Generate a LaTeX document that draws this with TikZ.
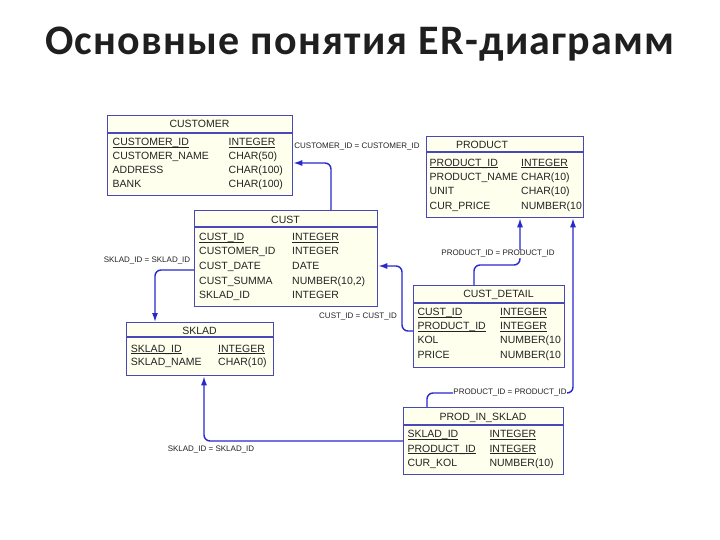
\documentclass[tikz,border=0pt]{standalone}
\usepackage{fontspec}
\setmainfont{Liberation Sans}
\newfontfamily\ttlfnt{Carlito}[LetterSpace=3.0]
\usetikzlibrary{arrows.meta}
\definecolor{boxblue}{RGB}{72,72,184}
\definecolor{linkblue}{RGB}{40,40,205}
\definecolor{boxfill}{RGB}{255,255,238}
\definecolor{txt}{RGB}{35,35,35}
\newsavebox\keybox
\newcommand\keyu[1]{\sbox\keybox{#1}\rlap{\rule[-1.7pt]{\wd\keybox}{0.6pt}}\usebox\keybox}
\begin{document}
\begin{tikzpicture}[x=1pt,y=-1pt,
  tbl/.style={draw=boxblue, fill=boxfill, line width=1.3pt, inner sep=0pt, anchor=north west},
  hdr/.style={draw=boxblue, line width=1.3pt},
  fld/.style={anchor=base west, inner sep=0pt, text=txt, font=\fontsize{10.5}{12}\selectfont},
  ttl/.style={anchor=base, inner sep=0pt, text=txt, font=\fontsize{10.5}{12}\selectfont},
  rel/.style={draw=linkblue, line width=1.4pt, rounded corners=6pt, -{Latex[length=9pt,width=6pt]}},
  lbl/.style={inner sep=0.5pt, text=txt, font=\fontsize{8}{9}\selectfont},
]
\useasboundingbox (0,0) rectangle (720,540);

% title
\node[anchor=base, inner sep=0pt, font=\ttlfnt\bfseries\fontsize{42}{46}\selectfont, text=black!88] (title) at (360,55) {Основные понятия ER-диаграмм};

% tables
\node[tbl, minimum width=185pt, minimum height=80pt] (customer) at (107,115) {};
\node[tbl, minimum width=157pt, minimum height=81pt] (product) at (426,136) {};
\node[tbl, minimum width=183pt, minimum height=96pt] (cust) at (194,210) {};
\node[tbl, minimum width=147pt, minimum height=53pt] (sklad) at (126,322) {};
\node[tbl, minimum width=151pt, minimum height=82pt] (custdetail) at (413,285) {};
\node[tbl, minimum width=160pt, minimum height=67pt] (prodinsklad) at (403,407) {};

% header lines
\draw[hdr] (customer.west |- 0,133) -- (customer.east |- 0,133);
\draw[hdr] (product.west |- 0,152) -- (product.east |- 0,152);
\draw[hdr] (cust.west |- 0,227) -- (cust.east |- 0,227);
\draw[hdr] (sklad.west |- 0,337) -- (sklad.east |- 0,337);
\draw[hdr] (custdetail.west |- 0,303) -- (custdetail.east |- 0,303);
\draw[hdr] (prodinsklad.west |- 0,425) -- (prodinsklad.east |- 0,425);

% CUSTOMER
\node[ttl] (customer-t) at (199.5,127.8) {CUSTOMER};
\node[fld] (customer-a1) at (112.5,145.8) {\keyu{CUSTOMER\_ID}};
\node[fld] (customer-b1) at (228.5,145.8) {\keyu{INTEGER}};
\node[fld] (customer-a2) at (112.5,159.8) {CUSTOMER\_NAME};
\node[fld] (customer-b2) at (228.5,159.8) {CHAR(50)};
\node[fld] (customer-a3) at (112.5,173.8) {ADDRESS};
\node[fld] (customer-b3) at (228.5,173.8) {CHAR(100)};
\node[fld] (customer-a4) at (112.5,187.8) {BANK};
\node[fld] (customer-b4) at (228.5,187.8) {CHAR(100)};

% PRODUCT
\node[ttl] (product-t) at (482,148.8) {PRODUCT};
\node[fld] (product-a1) at (429.5,166.3) {\keyu{PRODUCT\_ID}};
\node[fld] (product-b1) at (521,166.3) {\keyu{INTEGER}};
\node[fld] (product-a2) at (429.5,180.5) {PRODUCT\_NAME};
\node[fld] (product-b2) at (521,180.5) {CHAR(10)};
\node[fld] (product-a3) at (429.5,194.8) {UNIT};
\node[fld] (product-b3) at (521,194.8) {CHAR(10)};
\node[fld] (product-a4) at (429.5,209.5) {CUR\_PRICE};
\node[fld] (product-b4) at (521,209.5) {NUMBER(10};

% CUST
\node[ttl] (cust-t) at (285.5,223.8) {CUST};
\node[fld] (cust-a1) at (199,240.5) {\keyu{CUST\_ID}};
\node[fld] (cust-b1) at (292,240.5) {\keyu{INTEGER}};
\node[fld] (cust-a2) at (199,254.8) {CUSTOMER\_ID};
\node[fld] (cust-b2) at (292,254.8) {INTEGER};
\node[fld] (cust-a3) at (199,269.8) {CUST\_DATE};
\node[fld] (cust-b3) at (292,269.8) {DATE};
\node[fld] (cust-a4) at (199,284.8) {CUST\_SUMMA};
\node[fld] (cust-b4) at (292,284.8) {NUMBER(10,2)};
\node[fld] (cust-a5) at (199,298.8) {SKLAD\_ID};
\node[fld] (cust-b5) at (292,298.8) {INTEGER};

% SKLAD
\node[ttl] (sklad-t) at (199.5,334.8) {SKLAD};
\node[fld] (sklad-a1) at (130.7,352.1) {\keyu{SKLAD\_ID}};
\node[fld] (sklad-b1) at (218,352.1) {\keyu{INTEGER}};
\node[fld] (sklad-a2) at (130.7,365.5) {SKLAD\_NAME};
\node[fld] (sklad-b2) at (218,365.5) {CHAR(10)};

% CUST_DETAIL
\node[ttl] (custdetail-t) at (498.5,297.8) {CUST\_DETAIL};
\node[fld] (custdetail-a1) at (417.3,315.5) {\keyu{CUST\_ID}};
\node[fld] (custdetail-b1) at (500,315.5) {\keyu{INTEGER}};
\node[fld] (custdetail-a2) at (417.3,329.5) {\keyu{PRODUCT\_ID}};
\node[fld] (custdetail-b2) at (500,329.5) {\keyu{INTEGER}};
\node[fld] (custdetail-a3) at (417.3,343.8) {KOL};
\node[fld] (custdetail-b3) at (500,343.8) {NUMBER(10};
\node[fld] (custdetail-a4) at (417.3,358.1) {PRICE};
\node[fld] (custdetail-b4) at (500,358.1) {NUMBER(10};

% PROD_IN_SKLAD
\node[ttl] (prodinsklad-t) at (483,420.5) {PROD\_IN\_SKLAD};
\node[fld] (prodinsklad-a1) at (407.3,437.8) {\keyu{SKLAD\_ID}};
\node[fld] (prodinsklad-b1) at (489.3,437.8) {\keyu{INTEGER}};
\node[fld] (prodinsklad-a2) at (407.3,452.1) {\keyu{PRODUCT\_ID}};
\node[fld] (prodinsklad-b2) at (489.3,452.1) {\keyu{INTEGER}};
\node[fld] (prodinsklad-a3) at (407.3,466.5) {CUR\_KOL};
\node[fld] (prodinsklad-b3) at (489.3,466.5) {NUMBER(10)};

% relationships
\draw[rel] (cust.north -| 331,0) |- (customer.east |- 0,163);
\draw[rel] (cust.west |- 0,270) -| (sklad.north -| 155,0);
\draw[rel] (custdetail.west |- 0,331) -| (402,266) -- (cust.east |- 0,266);
\draw[rel] (custdetail.north -| 474,0) |- (520,265) -- (product.south -| 520,0);
\draw[rel] (prodinsklad.north -| 427,0) |- (573,393) -- (product.south -| 573,0);
\draw[rel] (prodinsklad.west |- 0,441) -| (sklad.south -| 204,0);

% labels
\node[lbl] (l1) at (357,147) {CUSTOMER\_ID = CUSTOMER\_ID};
\node[lbl] (l2) at (147,261) {SKLAD\_ID = SKLAD\_ID};
\node[lbl] (l3) at (358,317) {CUST\_ID = CUST\_ID};
\node[lbl, fill=white] (l4) at (498,254) {PRODUCT\_ID = PRODUCT\_ID};
\node[lbl, fill=white] (l5) at (510,392) {PRODUCT\_ID = PRODUCT\_ID};
\node[lbl] (l6) at (211,449) {SKLAD\_ID = SKLAD\_ID};
\end{tikzpicture}
\end{document}
